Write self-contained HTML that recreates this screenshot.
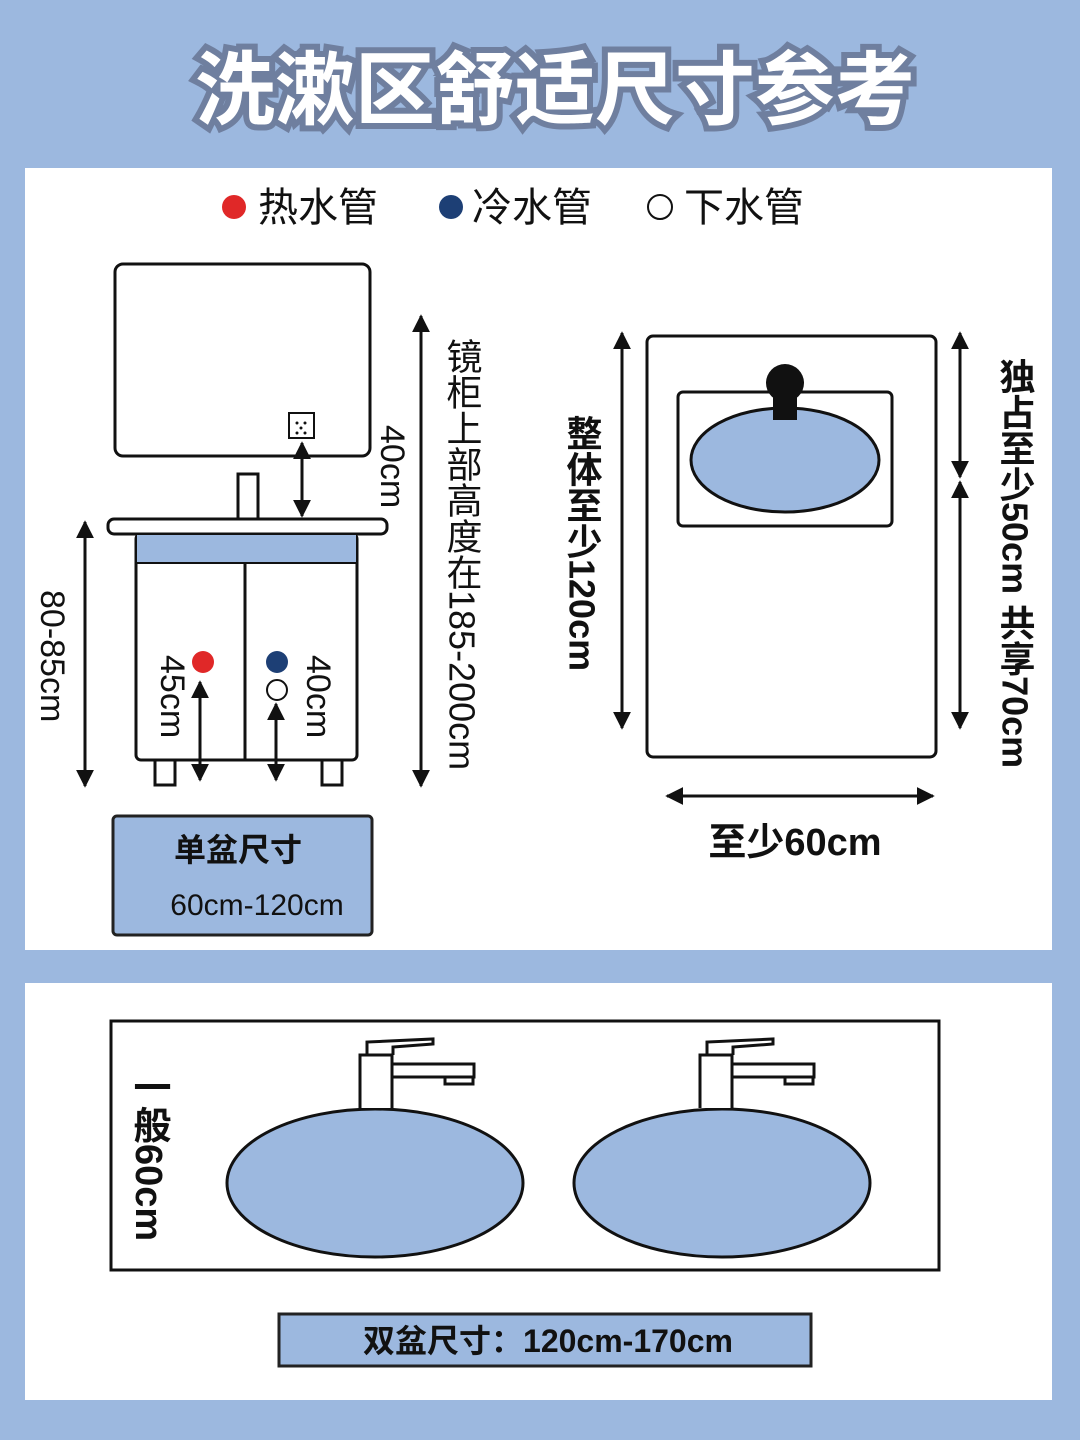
<!DOCTYPE html>
<html><head><meta charset="utf-8"><style>
body{margin:0;background:#9cb8df;}
svg{display:block}
text{font-family:"Liberation Sans","Noto Sans CJK SC",sans-serif;fill:#111}
.v{writing-mode:vertical-rl;}
</style></head><body>
<svg width="1080" height="1440" viewBox="0 0 1080 1440" xmlns="http://www.w3.org/2000/svg">
<defs>
<marker id="a" viewBox="0 0 10 10" refX="9" refY="5" markerWidth="6" markerHeight="6" orient="auto-start-reverse"><path d="M0,0L10,5L0,10z" fill="#111"/></marker>
</defs>
<rect width="1080" height="1440" fill="#9cb8df"/>
<text x="555" y="118" text-anchor="middle" font-size="80" font-weight="bold" stroke="#6f7f9f" stroke-width="12" paint-order="stroke" style="fill:#fff">洗漱区舒适尺寸参考</text>
<rect x="25" y="168" width="1027" height="782" fill="#fff"/>
<rect x="25" y="983" width="1027" height="417" fill="#fff"/>
<circle cx="234" cy="207" r="12" fill="#e02828"/>
<text x="258" y="221" font-size="40">热水管</text>
<circle cx="451" cy="207" r="12" fill="#1d3f75"/>
<text x="472" y="221" font-size="40">冷水管</text>
<circle cx="660" cy="207" r="12" fill="#fff" stroke="#111" stroke-width="2"/>
<text x="684" y="221" font-size="40">下水管</text>
<g stroke="#111" stroke-width="3" fill="#fff">
<rect x="115" y="264" width="255" height="192" rx="8"/>
<rect x="289" y="413" width="25" height="25" stroke-width="2"/>
<rect x="238" y="474" width="20" height="46"/>
<rect x="108" y="519" width="279" height="15" rx="6"/>
<rect x="136" y="534" width="221" height="226" rx="5"/>
<rect x="137" y="535" width="219" height="28" fill="#9cb8df" stroke="none"/>
<line x1="136" y1="563" x2="357" y2="563" stroke-width="2"/>
<line x1="245" y1="563" x2="245" y2="760"/>
<rect x="155" y="760" width="20" height="25"/>
<rect x="322" y="760" width="20" height="25"/>
</g>
<g fill="#111"><circle cx="297" cy="423" r="1.5"/><circle cx="305" cy="423" r="1.5"/><circle cx="301" cy="428" r="1.5"/><circle cx="297" cy="433" r="1.5"/><circle cx="305" cy="433" r="1.5"/></g>
<circle cx="203" cy="662" r="11" fill="#e02828"/>
<circle cx="277" cy="662" r="11" fill="#1d3f75"/>
<circle cx="277" cy="690" r="10" fill="#fff" stroke="#111" stroke-width="2"/>
<g stroke="#111" stroke-width="3" marker-start="url(#a)" marker-end="url(#a)">
<line x1="200" y1="682" x2="200" y2="780"/>
<line x1="276" y1="704" x2="276" y2="780"/>
<line x1="302" y1="443" x2="302" y2="516"/>
<line x1="421" y1="316" x2="421" y2="786"/>
<line x1="85" y1="522" x2="85" y2="786"/>
<line x1="622" y1="333" x2="622" y2="728"/>
<line x1="960" y1="333" x2="960" y2="477"/>
<line x1="960" y1="482" x2="960" y2="728"/>
<line x1="667" y1="796" x2="933" y2="796"/>
<line x1="193" y1="1023" x2="193" y2="1268"/>
</g>
<text class="v" x="392" y="425" font-size="34">40cm</text>
<text class="v" x="462" y="338" font-size="36">镜柜上部高度在185-200cm</text>
<text class="v" x="52" y="590" font-size="34">80-85cm</text>
<text class="v" x="172" y="655" font-size="34">45cm</text>
<text class="v" x="318" y="655" font-size="34">40cm</text>
<rect x="113" y="816" width="259" height="119" rx="4" fill="#9cb8df" stroke="#222" stroke-width="3"/>
<text x="238" y="861" font-size="32" text-anchor="middle" font-weight="bold">单盆尺寸</text>
<text x="257" y="915" font-size="30" text-anchor="middle">60cm-120cm</text>
<rect x="647" y="336" width="289" height="421" rx="6" fill="#fff" stroke="#111" stroke-width="3"/>
<rect x="678" y="392" width="214" height="134" rx="5" fill="#fff" stroke="#111" stroke-width="3"/>
<ellipse cx="785" cy="460" rx="94" ry="52" fill="#9cb8df" stroke="#111" stroke-width="3"/>
<circle cx="785" cy="383" r="19" fill="#111"/>
<rect x="773" y="392" width="24" height="28" fill="#111"/>
<text class="v" x="582" y="415" font-size="36" font-weight="bold">整体至少120cm</text>
<text class="v" x="1015" y="358" font-size="36" font-weight="bold">独占至少50cm 共享70cm</text>
<text x="795" y="855" font-size="38" text-anchor="middle" font-weight="bold">至少60cm</text>
<rect x="111" y="1021" width="828" height="249" fill="#fff" stroke="#111" stroke-width="3"/>
<g stroke="#111" stroke-width="3" fill="#fff">
<ellipse cx="375" cy="1183" rx="148" ry="74" fill="#9cb8df"/>
<ellipse cx="722" cy="1183" rx="148" ry="74" fill="#9cb8df"/>
<path d="M360,1108V1055h32v53M392,1064h82v13h-82M445,1077v7h28v-7M367,1055v-13l66,-3v5l-40,3v8"/>
<path d="M700,1108V1055h32v53M732,1064h82v13h-82M785,1077v7h28v-7M707,1055v-13l66,-3v5l-40,3v8"/>
</g>
<text class="v" x="148" y="1068" font-size="38" font-weight="bold">一般60cm</text>
<rect x="279" y="1314" width="532" height="52" fill="#9cb8df" stroke="#222" stroke-width="3"/>
<text x="548" y="1352" font-size="32" text-anchor="middle" font-weight="bold">双盆尺寸：120cm-170cm</text>
</svg>
</body></html>
